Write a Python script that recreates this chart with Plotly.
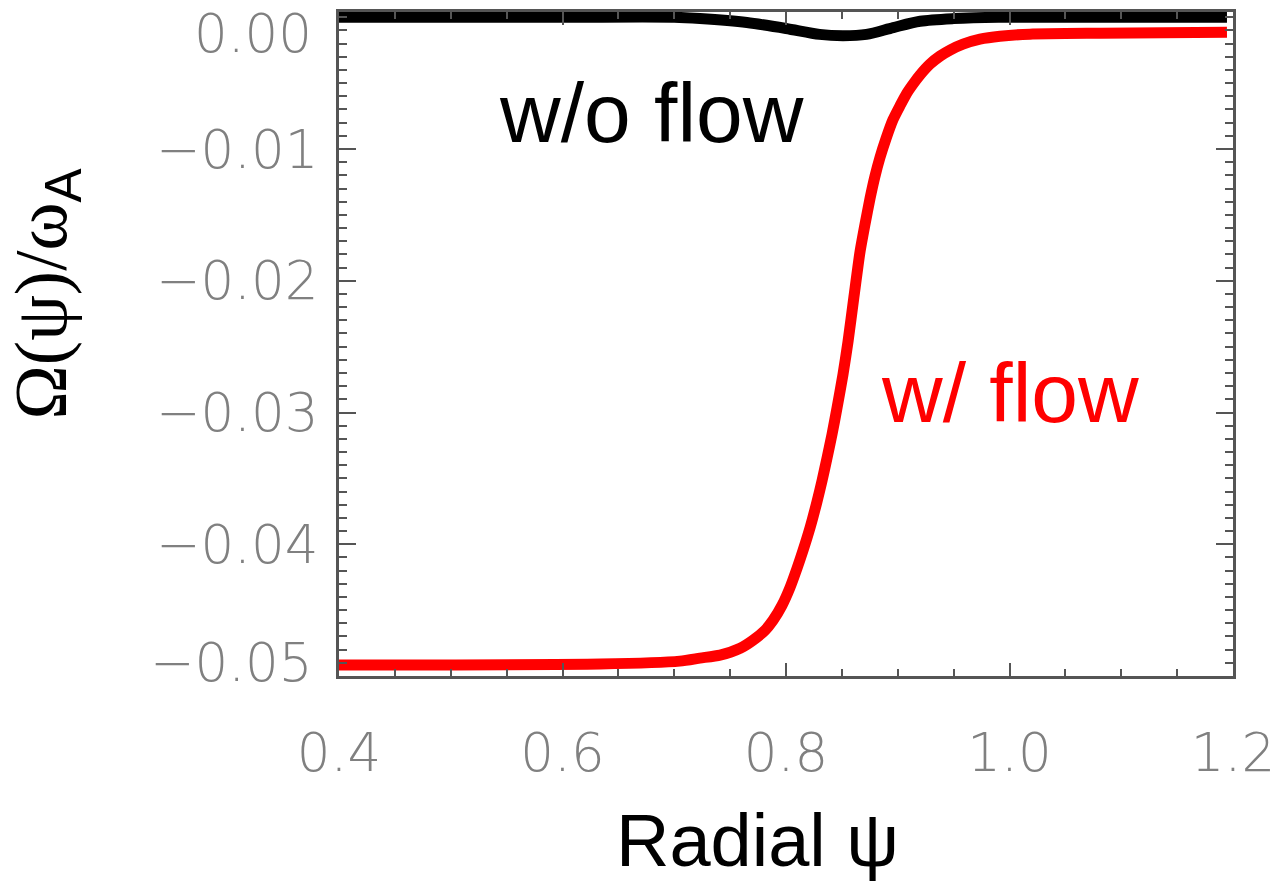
import plotly.graph_objects as go

# ---- data ----
psi_flow = [0.40, 0.634, 0.705, 0.723, 0.741, 0.759, 0.7705, 0.7812, 0.7884, 0.7964,
            0.8036, 0.8098, 0.8152, 0.8215, 0.8277, 0.8322, 0.8367, 0.8412, 0.8456,
            0.8510, 0.8555, 0.8608, 0.8662, 0.8707, 0.8752, 0.8796, 0.8841, 0.8895,
            0.8957, 0.9020, 0.9083, 0.9145, 0.9199, 0.9289, 0.9378, 0.9468, 0.9584,
            0.9736, 0.9915, 1.0183, 1.081, 1.1946]
omega_flow = [-0.04917, -0.04909, -0.04887, -0.04864, -0.04841, -0.04789, -0.04728,
              -0.04653, -0.04577, -0.04464, -0.04328, -0.04184, -0.04048, -0.03875,
              -0.03678, -0.03520, -0.03346, -0.03165, -0.02968, -0.02711, -0.02462,
              -0.02122, -0.01782, -0.01571, -0.01375, -0.01208, -0.01065, -0.00921,
              -0.00778, -0.00672, -0.00574, -0.00498, -0.00438, -0.00355, -0.00295,
              -0.00249, -0.00204, -0.00166, -0.00144, -0.00128, -0.00121, -0.00113]

psi_noflow = [0.40, 0.60, 0.70, 0.723, 0.765, 0.80, 0.83, 0.851, 0.872, 0.896, 0.92,
              0.95, 0.99, 1.10, 1.1946]
omega_noflow = [0.0, 0.0, 0.0, -0.0001, -0.0004, -0.00085, -0.0013, -0.0014, -0.0013,
                -0.00078, -0.0003, -0.0001, 0.0, 0.0, 0.0]

x_tickvals = [0.4, 0.6, 0.8, 1.0, 1.2]
x_ticktext = ["0.4", "0.6", "0.8", "1.0", "1.2"]
y_tickvals = [0.0, -0.01, -0.02, -0.03, -0.04, -0.05]
y_ticktext = ["0.00", "\u22120.01", "\u22120.02", "\u22120.03", "\u22120.04", "\u22120.05"]

axis_color = "#555555"
label_font = dict(family="DejaVu Sans", size=53, color="#808080", weight=300)

fig = go.Figure()
fig.add_trace(go.Scatter(x=psi_noflow, y=omega_noflow, mode="lines",
                         line=dict(color="black", width=11, shape="spline", smoothing=0.8),
                         name="w/o flow", showlegend=False))
fig.add_trace(go.Scatter(x=psi_flow, y=omega_flow, mode="lines",
                         line=dict(color="#ff0000", width=11, shape="spline", smoothing=0.6),
                         name="w/ flow", showlegend=False))

# curve labels
fig.add_annotation(x=0.680, y=-0.0073, xref="x", yref="y", text="w/o flow",
                   showarrow=False, font=dict(family="Liberation Sans", size=84, color="black"))
fig.add_annotation(x=1.0005, y=-0.0285, xref="x", yref="y", text="w/ flow",
                   showarrow=False, font=dict(family="Liberation Sans", size=84, color="#ff0000"))

# end tick labels of the y axis (drawn inset from the frame corners, as in the reference)
fig.add_annotation(x=-0.029, y=-0.00122, xref="paper", yref="y", text=y_ticktext[0],
                   showarrow=False, xanchor="right", yanchor="middle", borderpad=0,
                   font=label_font)
fig.add_annotation(x=-0.029, y=-0.0490, xref="paper", yref="y", text=y_ticktext[5],
                   showarrow=False, xanchor="right", yanchor="middle", borderpad=0,
                   font=label_font)

# axis titles
fig.add_annotation(x=-0.327, y=0.5757, xref="paper", yref="paper",
                   text="\u03a9(\u03c8)/\u03c9<sub><span style='font-family:Liberation Sans'>A</span></sub>",
                   textangle=-90, showarrow=False, xanchor="center", yanchor="middle",
                   font=dict(family="Liberation Serif", size=73, color="black"))
fig.add_annotation(x=0.4676, y=-0.2474, xref="paper", yref="paper", text="Radial \u03c8",
                   showarrow=False, xanchor="center", yanchor="middle",
                   font=dict(family="Liberation Sans", size=74, color="black"))

fig.update_xaxes(range=[0.4, 1.2], tickvals=x_tickvals, ticktext=x_ticktext,
                 ticks="inside", ticklen=13, tickwidth=2, tickcolor=axis_color,
                 minor=dict(ticks="inside", dtick=0.05, ticklen=7, tickwidth=2, tickcolor=axis_color),
                 showline=True, linecolor=axis_color, linewidth=3, mirror="ticks",
                 showgrid=False, zeroline=False, tickfont=label_font, ticklabelstandoff=28)
# the 0.00 and -0.05 major ticks sit on the frame lines; their labels are the annotations above
fig.update_yaxes(range=[-0.05, 0.0004], tickvals=y_tickvals[1:5], ticktext=y_ticktext[1:5],
                 ticks="inside", ticklen=17, tickwidth=2, tickcolor=axis_color,
                 minor=dict(ticks="inside", dtick=0.001, tick0=0, ticklen=8, tickwidth=2, tickcolor=axis_color),
                 showline=True, linecolor=axis_color, linewidth=3, mirror="ticks",
                 showgrid=False, zeroline=False, tickfont=label_font, ticklabelstandoff=7)

fig.update_layout(width=1285, height=882, autosize=False,
                  margin=dict(l=339, r=52, t=9, b=206),
                  paper_bgcolor="white", plot_bgcolor="white")

fig.write_html("out.html")
